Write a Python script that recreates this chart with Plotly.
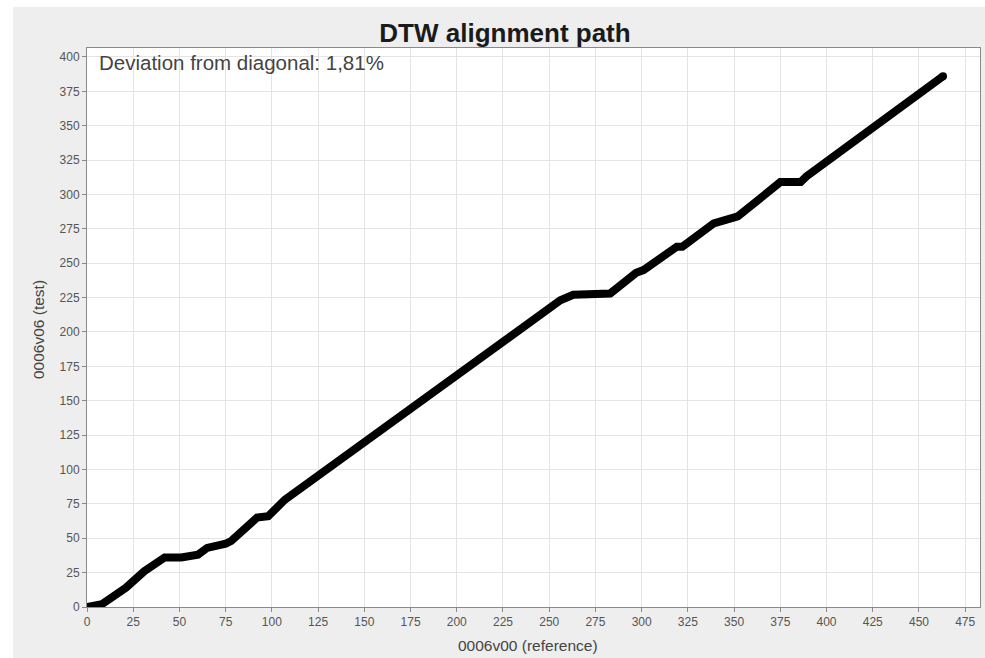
import plotly.graph_objects as go

# Warping path waypoints: reference frame index vs. test frame index
ref_frames = [0, 8, 21, 31, 42, 51, 60, 65, 75, 78, 92, 98, 107, 186, 256, 263,
              283, 297, 301, 319, 322, 339, 350, 352, 375, 386, 389, 418, 447, 463]
test_frames = [0, 2, 14, 26, 36, 36, 38, 43, 46, 48, 65, 66, 78, 155, 223, 227,
               228, 243, 245, 262, 262, 279, 284, 284, 309, 309, 313, 342, 371, 386]

x_ticks = list(range(0, 476, 25))
y_ticks = list(range(0, 401, 25))

chart_title = "DTW alignment path"
x_label = "0006v00 (reference)"
y_label = "0006v06 (test)"
deviation_text = "Deviation from diagonal: 1,81%"

W, H = 985, 658
ML, MR, MT, MB = 87, 5, 48, 51
PW, PH = W - ML - MR, H - MT - MB

font_family = "Liberation Sans, Arial, sans-serif"
text_grey = "#444444"
axis_grey = "#8a8a8a"
grid_grey = "#e4e4e4"

fig = go.Figure()
fig.add_trace(go.Scatter(
    x=ref_frames, y=test_frames, mode="lines",
    line=dict(color="black", width=8),
    hoverinfo="x+y", showlegend=False,
))
# rounded ends of the path
fig.add_trace(go.Scatter(
    x=[ref_frames[0], ref_frames[-1]], y=[test_frames[0], test_frames[-1]],
    mode="markers", marker=dict(color="black", size=8, line=dict(width=0)),
    hoverinfo="skip", showlegend=False, cliponaxis=True,
))

axis_common = dict(
    showline=True, linecolor=axis_grey, linewidth=1, mirror=True,
    showgrid=True, gridcolor=grid_grey, gridwidth=1,
    ticks="outside", ticklen=4, tickcolor=axis_grey,
    tickfont=dict(family=font_family, size=12, color="#555555"),
    zeroline=False,
)

fig.update_xaxes(range=[0, 483], tickmode="array", tickvals=x_ticks, **axis_common)
fig.update_yaxes(range=[0, 406.5], tickmode="array", tickvals=y_ticks, **axis_common)

# thin white page border round the grey chart panel (left and top)
fig.add_shape(
    type="rect", xref="paper", yref="paper", layer="below",
    x0=-ML / PW, x1=-(ML - 13) / PW, y0=-MB / PH, y1=1 + MT / PH,
    fillcolor="white", line=dict(width=0),
)
fig.add_shape(
    type="rect", xref="paper", yref="paper", layer="below",
    x0=-ML / PW, x1=1 + MR / PW, y0=1 + (MT - 7) / PH, y1=1 + MT / PH,
    fillcolor="white", line=dict(width=0),
)

fig.add_annotation(
    text=deviation_text, xref="paper", yref="paper",
    x=(97 - ML) / PW, y=(H - MB - 63) / PH,
    xanchor="left", yanchor="middle", showarrow=False,
    font=dict(family=font_family, size=20.5, color=text_grey),
)
fig.add_annotation(
    text=x_label, xref="paper", yref="paper",
    x=(528 - ML) / PW, y=-(645 - (H - MB)) / PH,
    xanchor="center", yanchor="middle", showarrow=False,
    font=dict(family=font_family, size=15.5, color=text_grey),
)
fig.add_annotation(
    text=y_label, xref="paper", yref="paper",
    x=-(ML - 38) / PW, y=(H - MB - 330) / PH,
    xanchor="center", yanchor="middle", showarrow=False, textangle=-90,
    font=dict(family=font_family, size=15.5, color=text_grey),
)

fig.update_layout(
    width=W, height=H,
    margin=dict(l=ML, r=MR, t=MT, b=MB),
    paper_bgcolor="#eeeeee", plot_bgcolor="white",
    title=dict(
        text=f"<b>{chart_title}</b>", xref="container", yref="container",
        x=505 / W, y=1 - 33 / H, xanchor="center", yanchor="middle",
        font=dict(family=font_family, size=26, color="#1a1a1a"),
    ),
)

fig.write_html("out.html")
